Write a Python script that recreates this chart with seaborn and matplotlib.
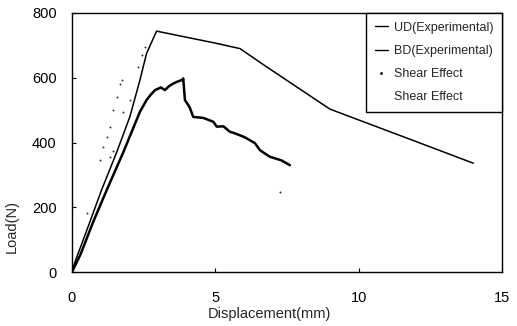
import matplotlib
matplotlib.use("Agg")
import matplotlib.pyplot as plt
from matplotlib.lines import Line2D
import seaborn as sns
import pandas as pd

# ---- data ----
ud_x = [0, 0.1, 0.5, 1.03, 1.56, 2.02, 2.37, 2.6, 2.95, 4.0, 5.0, 5.86, 6.7, 9.0, 10.5, 12.0, 14.0]
ud_y = [0, 30, 125, 253, 370, 480, 593, 675, 744, 725, 707, 690, 639, 503, 453, 403, 336]

bd_x = [0, 0.3, 0.74, 1.21, 1.79, 2.37, 2.6, 2.75, 2.9, 3.1, 3.24, 3.4, 3.53, 3.65, 3.86, 3.88,
        3.94, 4.06, 4.12, 4.23, 4.58, 4.93, 5.05, 5.28, 5.51, 5.63, 5.98, 6.09, 6.38, 6.56, 6.9, 7.3, 7.6]
bd_y = [0, 55, 155, 253, 370, 495, 531, 548, 562, 570, 562, 575, 582, 587, 594, 598,
        531, 515, 505, 479, 476, 464, 449, 450, 433, 430, 418, 413, 398, 376, 356, 345, 330]

shear1_x = [0.98, 1.09, 1.21, 1.33, 1.44, 1.56, 1.67, 1.73, 2.31, 2.43, 2.55]
shear1_y = [346, 387, 418, 448, 500, 541, 582, 593, 634, 670, 695]

shear2_x = [0.51, 1.33, 1.44, 1.79, 2.02, 7.26]
shear2_y = [181, 356, 375, 495, 531, 248]

labels = ["UD(Experimental)", "BD(Experimental)", "Shear Effect", "Shear Effect"]
x_ticks = [0, 5, 10, 15]
y_ticks = [0, 200, 400, 600, 800]

# ---- plotting ----
sns.set_style("ticks")
plt.rcParams['font.family'] = ['Liberation Sans', 'DejaVu Sans']

fig = plt.figure(figsize=(5.17, 3.26), dpi=100)
ax = fig.add_axes([72 / 517, 1 - 272 / 326, (502 - 72) / 517, (272 - 13) / 326])

ud = pd.DataFrame({"x": ud_x, "y": ud_y})
bd = pd.DataFrame({"x": bd_x, "y": bd_y})
s1 = pd.DataFrame({"x": shear1_x, "y": shear1_y})
s2 = pd.DataFrame({"x": shear2_x, "y": shear2_y})

sns.lineplot(data=ud, x="x", y="y", sort=False, estimator=None, color="black", lw=1.1, ax=ax)
sns.lineplot(data=bd, x="x", y="y", sort=False, estimator=None, color="black", lw=1.8, ax=ax)
sns.scatterplot(data=s1, x="x", y="y", color="#333333", s=2, linewidth=0, ax=ax)
sns.scatterplot(data=s2, x="x", y="y", color="#333333", s=2, linewidth=0, ax=ax)

ax.set_xlim(0, 15)
ax.set_ylim(0, 800)
ax.set_xticks(x_ticks)
ax.set_yticks(y_ticks)
ax.set_xticklabels([str(v) for v in x_ticks])
ax.set_yticklabels([str(v) for v in y_ticks])
ax.tick_params(direction="in", length=3, width=0.8, labelsize=10.5, colors="black")
ax.tick_params(axis="y", pad=11)
ax.tick_params(axis="x", pad=14)

for sp in ax.spines.values():
    sp.set_visible(True)
    sp.set_color("black")
    sp.set_linewidth(1.0)

ax.set_xlabel("Displacement(mm)", fontsize=10.5)
ax.xaxis.set_label_coords(0.458, -0.135)
ax.set_ylabel("Load(N)", fontsize=10.5)
ax.yaxis.set_label_coords(-0.125, 0.175)

handles = [
    Line2D([], [], color="black", lw=1.0),
    Line2D([], [], color="black", lw=1.0),
    Line2D([], [], color="black", lw=0, marker=".", markersize=2),
    Line2D([], [], color="none", lw=0),
]
leg = ax.legend(handles, labels, loc="upper right", borderaxespad=0, fontsize=9,
                handlelength=1.0, handletextpad=0.5, labelspacing=0.9,
                frameon=True, fancybox=False, edgecolor="black", framealpha=1,
                borderpad=0.7)
leg.get_frame().set_linewidth(1.0)

fig.savefig("out.png", dpi=100)
